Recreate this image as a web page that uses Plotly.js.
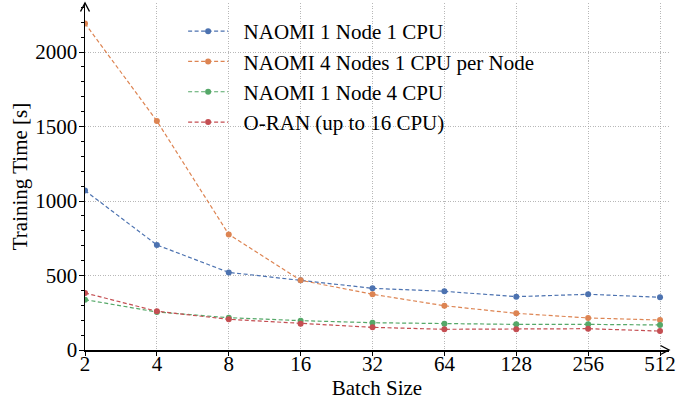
<!DOCTYPE html>
<html>
<head>
<meta charset="utf-8">
<script src="https://cdn.plot.ly/plotly-3.0.1.min.js"></script>
<style>html,body{margin:0;padding:0;background:#fff;}#chart{width:694px;height:401px;}</style>
</head>
<body>
<div id="chart"></div>
<script>
const batchSizes = [2, 4, 8, 16, 32, 64, 128, 256, 512];
const naomi1Node1Cpu = [1070, 705, 521, 468, 414, 394, 358, 374, 354];
const naomi4Nodes1Cpu = [2192, 1537, 776, 468, 374, 297, 246, 215, 201];
const naomi1Node4Cpu = [338, 255, 217, 197, 183, 176, 172, 172, 168];
const oran16Cpu = [383, 260, 206, 177, 152, 139, 139, 143, 127];
const seriesNames = ["NAOMI 1 Node 1 CPU", "NAOMI 4 Nodes 1 CPU per Node", "NAOMI 1 Node 4 CPU", "O-RAN (up to 16 CPU)"];
const seriesColors = ["#4c72b0", "#dd8452", "#55a868", "#c44e52"];
const tickLabels = ["2", "4", "8", "16", "32", "64", "128", "256", "512"];

const allSeries = [naomi1Node1Cpu, naomi4Nodes1Cpu, naomi1Node4Cpu, oran16Cpu];
const FONT = "Liberation Serif";

const traces = allSeries.map((ys, i) => ({
  x: batchSizes, y: ys, name: "\u00a0\u00a0" + seriesNames[i], type: "scatter", mode: "lines+markers",
  line: {color: seriesColors[i], width: 1.2, dash: "4px,2.5px"},
  marker: {color: seriesColors[i], size: 6}
}));

const xmaxLog = Math.log10(Math.pow(2, 9.125));
const layout = {
  width: 694, height: 401,
  margin: {l: 85, r: 25, t: 3, b: 51},
  paper_bgcolor: "#fff", plot_bgcolor: "#fff",
  font: {family: FONT, size: 20, color: "#000"},
  showlegend: true,
  legend: {x: 0.168, y: 0.977, xanchor: "left", yanchor: "top", bgcolor: "rgba(0,0,0,0)",
           borderwidth: 0, font: {family: FONT, size: 21, color: "#000"}, itemwidth: 40},
  xaxis: {
    type: "log", range: [Math.log10(2), xmaxLog],
    tickvals: batchSizes, ticktext: tickLabels,
    showline: true, linecolor: "#000", linewidth: 1.5,
    ticks: "outside", ticklen: 4, tickcolor: "#000", tickwidth: 1,
    ticklabelstandoff: -10,
    showgrid: true, gridcolor: "#9a9a9a", griddash: "1px,1.5px", gridwidth: 0.7,
    zeroline: false, tickfont: {family: FONT, size: 21, color: "#000"},
    title: {text: "Batch Size", font: {family: FONT, size: 21, color: "#000"}, standoff: 0}
  },
  yaxis: {
    range: [0, 2329], tickvals: [0, 500, 1000, 1500, 2000],
    showline: true, linecolor: "#000", linewidth: 1.5,
    ticks: "outside", ticklen: 5, tickcolor: "#000", tickwidth: 1,
    ticklabelstandoff: -3,
    minor: {dtick: 100, ticks: "outside", ticklen: 3, tickcolor: "#000", showgrid: false},
    showgrid: true, gridcolor: "#9a9a9a", griddash: "1px,1.5px", gridwidth: 0.7,
    zeroline: false, tickfont: {family: FONT, size: 21, color: "#000"},
    title: {text: "Training Time [s]", font: {family: FONT, size: 21, color: "#000"}, standoff: 2}
  },
  shapes: [
    {type: "path", xref: "paper", yref: "paper", xsizemode: "pixel", ysizemode: "pixel",
     xanchor: 0, yanchor: 1, path: "M-4.5,-8.5 L0,0 L4.5,-8.5", line: {color: "#000", width: 1.4}},
    {type: "path", xref: "paper", yref: "paper", xsizemode: "pixel", ysizemode: "pixel",
     xanchor: 1, yanchor: 0, path: "M-8.5,4.5 L0,0 L-8.5,-4.5", line: {color: "#000", width: 1.4}}
  ]
};
Plotly.newPlot("chart", traces, layout, {displayModeBar: false, staticPlot: true});
</script>
</body>
</html>
